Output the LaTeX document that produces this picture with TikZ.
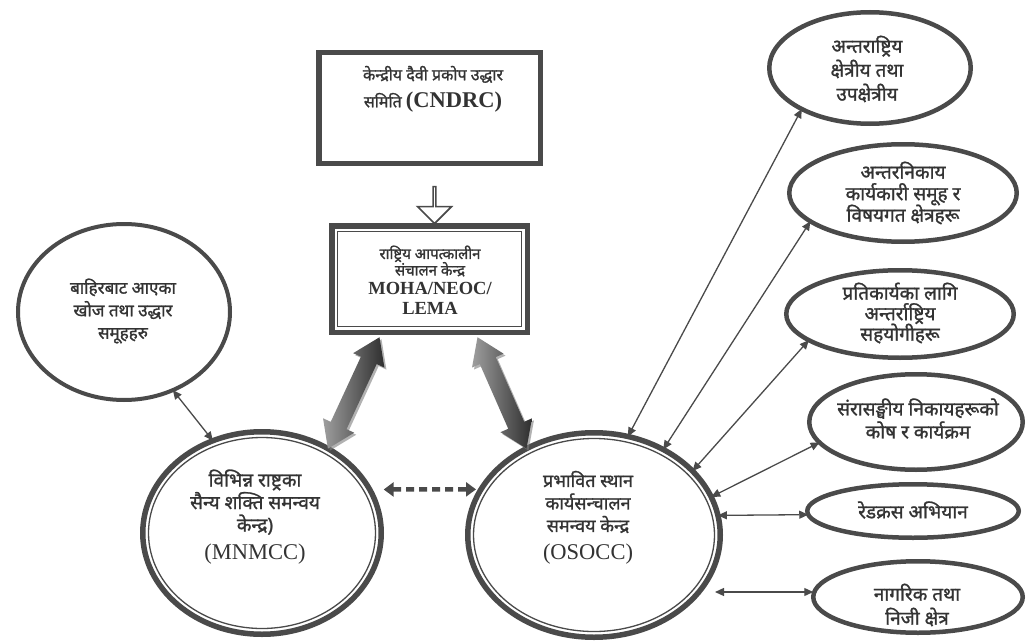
\documentclass[tikz,border=0pt]{standalone}
\usepackage{fontspec}
\usetikzlibrary{shapes.geometric,shapes.arrows,arrows.meta,calc,shadows}
\newfontfamily\deva[Script=Devanagari,FakeBold=1.2]{Noto Sans}
\newfontfamily\lat{Liberation Serif}
\newcommand{\nols}{\lineskiplimit=-50pt\relax}
\definecolor{inkc}{HTML}{4A4A4A}
\definecolor{txtc}{HTML}{333333}
\newcommand{\fatarrow}[3]{%
  \path let \p1=(#1), \p2=(#2), \n1={atan2(\y2-\y1,\x2-\x1)}, \n2={veclen(\x2-\x1,\y2-\y1)} in
    node[fatarr, rotate=\n1, minimum height=\n2] (#3) at ($(#1)!0.5!(#2)$) {};}
\begin{document}
\begin{tikzpicture}[x=1pt,y=-1pt,
  boxnode/.style={rectangle, draw=inkc, line width=5.5pt, inner sep=0pt, outer sep=0pt, fill=white},
  ellnode/.style={ellipse, draw=inkc, line width=4.5pt, inner sep=0pt, outer sep=0pt},
  bigell/.style={ellipse, draw=inkc, line width=5.5pt, inner sep=0pt, outer sep=0pt},
  innerline/.style={draw=inkc, line width=1.3pt},
  lbl/.style={text=txtc, align=center, inner sep=0pt, font=\deva\fontsize{19}{22.5}\selectfont\nols},
  latlbl/.style={text=txtc, align=center, inner sep=0pt, font=\lat\fontsize{22.5}{24}\selectfont},
  thinarr/.style={draw=inkc, line width=1.3pt, {Triangle[length=9pt,width=8pt]}-{Triangle[length=9pt,width=8pt]}},
  dasharr/.style={draw=inkc, line width=4.5pt, dash pattern=on 8pt off 5pt, {Triangle[length=10pt,width=14pt]}-{Triangle[length=10pt,width=14pt]}},
  fatarr/.style={double arrow, draw=none, inner xsep=0pt, inner ysep=8.5pt, text height=0pt, text depth=0pt, text width=0pt, minimum width=34pt, double arrow head extend=8.5pt, double arrow tip angle=68, left color=black!38, right color=black!82, drop shadow={shadow xshift=2pt, shadow yshift=-2pt, opacity=.6}},
  hollow/.style={single arrow, draw=inkc, fill=white, line width=1.6pt, inner sep=0pt, minimum width=34pt, minimum height=37pt, single arrow head extend=9pt, single arrow tip angle=90}
]
\useasboundingbox (0,0) rectangle (1028,642);
\fill[white] (0,0) rectangle (1028,642);

% boxes
\node[boxnode, minimum width=221.5pt, minimum height=110.5pt] (cndrc) at (429.5,108) {};
\node[boxnode, minimum width=195.5pt, minimum height=106.5pt] (moha) at (429.5,279) {};
\draw[innerline] ($(moha.north west)+(6,6)$) rectangle ($(moha.south east)+(-6,-6)$);

% ellipses
\node[ellnode, line width=4pt, minimum width=212pt, minimum height=176pt] (ext) at (124,312) {};
\node[bigell, minimum width=238.5pt, minimum height=202.5pt] (mnmcc) at (262,533) {};
\draw[innerline] (mnmcc.center) ellipse [x radius=113.5, y radius=95.5];
\node[bigell, minimum width=252.5pt, minimum height=204.5pt] (osocc) at (594,535) {};
\draw[innerline] (osocc.center) ellipse [x radius=120.5, y radius=96.5];

\node[ellnode, minimum width=201.5pt, minimum height=111.5pt] (e1) at (870,68) {};
\node[ellnode, minimum width=227.5pt, minimum height=97.5pt] (e2) at (903,193) {};
\node[ellnode, minimum width=227.5pt, minimum height=87.5pt] (e3) at (900,314) {};
\node[ellnode, minimum width=213.5pt, minimum height=95.5pt] (e4) at (916,422) {};
\node[ellnode, minimum width=211.5pt, minimum height=53.5pt] (e5) at (913,511) {};
\node[ellnode, minimum width=209.5pt, minimum height=71.5pt] (e6) at (918,597) {};

% texts
\node[lbl, font=\deva\fontsize{16}{27}\selectfont\nols] (tcndrc) at (433,89) {केन्द्रीय दैवी प्रकोप उद्धार\\समिति {\lat\bfseries\fontsize{22.5}{22}\selectfont (CNDRC)}};
\node[lbl, font=\deva\fontsize{15}{16.5}\selectfont\nols] (tmoha1) at (430,261) {राष्ट्रिय आपत्कालीन\\संचालन केन्द्र};
\node[latlbl, font=\lat\bfseries\fontsize{18.5}{20}\selectfont] (tmoha2) at (430,298) {MOHA/NEOC/\\LEMA};
\node[lbl, font=\deva\fontsize{17}{22.5}\selectfont\nols] (text) at (123,311) {बाहिरबाट आएका\\खोज तथा उद्धार\\समूहहरु};
\node[lbl] (tmn1) at (255,502) {विभिन्न राष्ट्रका\\सैन्य शक्ति समन्वय\\केन्द्र)};
\node[latlbl] (tmn2) at (255,554) {(MNMCC)};
\node[lbl, font=\deva\fontsize{18}{22.5}\selectfont\nols] (tos1) at (588,502) {प्रभावित स्थान\\कार्यसन्चालन\\समन्वय केन्द्र};
\node[latlbl] (tos2) at (588,554) {(OSOCC)};
\node[lbl, font=\deva\fontsize{19}{24}\selectfont\nols] (te1) at (867,69) {अन्तराष्ट्रिय\\क्षेत्रीय तथा\\उपक्षेत्रीय};
\node[lbl, font=\deva\fontsize{19}{21.5}\selectfont\nols] (te2) at (903,193) {अन्तरनिकाय\\कार्यकारी समूह र\\विषयगत क्षेत्रहरू};
\node[lbl, font=\deva\fontsize{19}{20.5}\selectfont\nols] (te3) at (900,313) {प्रतिकार्यका लागि\\अन्तर्राष्ट्रिय\\सहयोगीहरू};
\node[lbl, font=\deva\fontsize{19}{23}\selectfont\nols] (te4) at (918,418.5) {संरासङ्घीय निकायहरूको\\कोष र कार्यक्रम};
\node[lbl] (te5) at (913,510) {रेडक्रस अभियान};
\node[lbl, font=\deva\fontsize{19}{24}\selectfont\nols] (te6) at (917,605) {नागरिक तथा\\निजी क्षेत्र};

% hollow arrow
\node[hollow, rotate=-90, anchor=tip] (down) at ($(moha.north)+(5,-1)$) {};

% fat arrows
\coordinate (mtl) at ($(moha.south)+(-50,5)$);
\coordinate (mtr) at ($(moha.south)+(48,5)$);
\fatarrow{mtl}{mnmcc.52}{fatl}
\fatarrow{mtr}{osocc.128}{fatr}

% dashed arrow
\draw[dasharr, shorten <=14pt, shorten >=5pt] (mnmcc.22) -- (osocc.158);

% thin arrows
\draw[thinarr] (ext.-58) -- (mnmcc.118.6);
\draw[thinarr] (e1.211) -- (osocc.71.7);
\draw[thinarr] (e2.197) -- (osocc.51.6);
\draw[thinarr] (e3.196) -- (osocc.33);
\draw[thinarr] (e4.192) -- (osocc.18.9);
\draw[thinarr] (e5.182) -- (osocc.9);
\coordinate (e6free) at (715,592);
\draw[thinarr] (e6free) -- (e6free -| e6.west);
\end{tikzpicture}
\end{document}
